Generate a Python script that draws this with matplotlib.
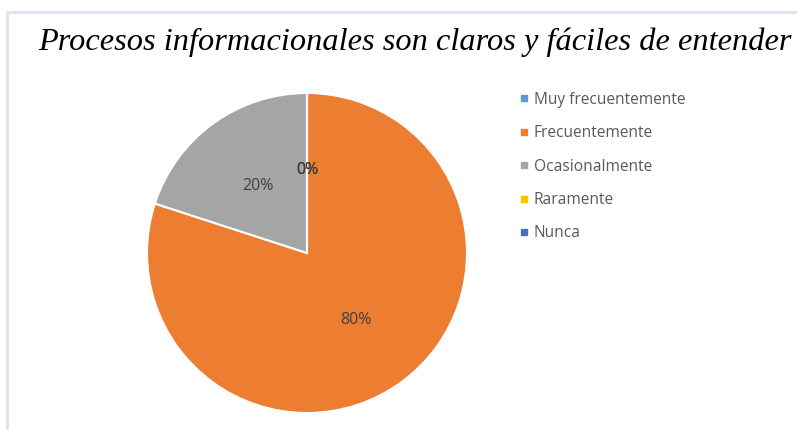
import matplotlib.pyplot as plt
from matplotlib.lines import Line2D
from matplotlib.patches import Rectangle

categories = ["Muy frecuentemente", "Frecuentemente", "Ocasionalmente", "Raramente", "Nunca"]
values = [0, 80, 20, 0, 0]
colors = ["#5B9BD5", "#ED7D31", "#A5A5A5", "#FFC000", "#4472C4"]

W, H = 797, 430
fig = plt.figure(figsize=(W / 100, H / 100), dpi=100)

# light border of the chart area
fig.patches.append(Rectangle((7 / W, -0.1), 1.1, 1 - 12 / H + 0.1, transform=fig.transFigure,
                             fill=False, edgecolor="#DAE3F3", linewidth=2))

fig.text(415 / W, 1 - 42 / H, "Procesos informacionales son claros y fáciles de entender",
         ha="center", va="center", family="Liberation Serif", style="italic", fontsize=23.3)

cx, cy, r = 307, 253, 160
ax = fig.add_axes([(cx - r) / W, 1 - (cy + r) / H, 2 * r / W, 2 * r / H])
wedges, texts, autotexts = ax.pie(values, colors=colors, startangle=90, counterclock=False,
                                  autopct="%1.0f%%", pctdistance=0.52,
                                  wedgeprops=dict(edgecolor="white", linewidth=1.5),
                                  textprops=dict(color="#404040", family="Open Sans", fontsize=11.5))
ax.set_xlim(-1, 1)
ax.set_ylim(-1, 1)
ax.set_aspect("equal")

handles = [Line2D([], [], marker="s", linestyle="none", markersize=5,
                  markerfacecolor=c, markeredgecolor=c) for c in colors]
leg = fig.legend(handles, categories, loc="upper left", bbox_to_anchor=(512 / W, 1 - 84 / H),
                 frameon=False, prop=dict(family="Open Sans", size=11.2), labelspacing=1.12,
                 handlelength=0.6, handletextpad=0.3, borderpad=0)
for t in leg.get_texts():
    t.set_color("#595959")

fig.savefig("out.png", dpi=100)
